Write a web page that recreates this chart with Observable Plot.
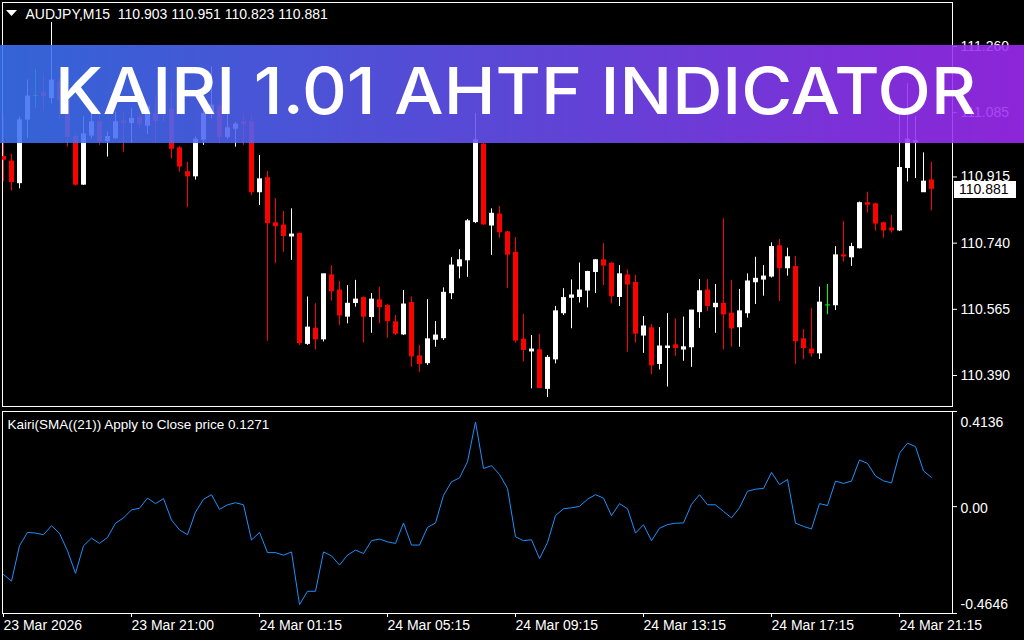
<!DOCTYPE html>
<html>
<head>
<meta charset="utf-8">
<script src="https://cdn.jsdelivr.net/npm/d3@7"></script>
<script src="https://cdn.jsdelivr.net/npm/@observablehq/plot@0.6"></script>
<style>
  html, body { margin: 0; padding: 0; background: #000; }
  #chart { width: 1024px; height: 640px; background: #000; overflow: hidden; }
  #chart svg { display: block; }
</style>
</head>
<body>
<div id="chart"></div>
<script>
// ---------- DATA ----------
const symbol = "AUDJPY,M15";
const bannerTitle = "KAIRI 1.01 AHTF INDICATOR";
const kairiTitle = "Kairi(SMA((21)) Apply to Close price";

const opens = [110.965,110.953,110.896,111.064,111.128,111.134,111.121,111.162,111.115,111.018,
110.892,111.022,111.057,111.007,111.015,111.059,111.055,111.069,111.048,111.079,
111.099,111.090,110.988,110.925,110.914,111.011,111.084,111.099,111.018,111.040,
111.057,111.057,110.872,110.909,110.790,110.784,110.755,110.762,110.471,110.511,
110.483,110.652,110.612,110.543,110.579,110.592,110.542,110.586,110.571,110.528,
110.496,110.579,110.438,110.420,110.482,110.486,110.605,110.676,110.692,110.793,
110.998,110.784,110.813,110.766,110.712,110.482,110.451,110.454,110.352,110.430,
110.552,110.593,110.595,110.612,110.661,110.692,110.683,110.595,110.652,110.632,
110.493,110.512,110.418,110.460,110.467,110.456,110.462,110.555,110.612,110.568,
110.577,110.551,110.515,110.552,110.634,110.641,110.649,110.729,110.671,110.674,
110.483,110.456,110.446,110.574,110.573,110.705,110.700,110.724,110.843,110.840,
110.790,110.776,110.771,110.936,111.003,110.872,110.903];
const highs = [111.075,110.972,111.070,111.169,111.196,111.181,111.321,111.173,111.123,111.027,
111.072,111.080,111.078,111.031,111.084,111.081,111.093,111.079,111.101,111.123,
111.123,111.143,110.993,110.951,111.018,111.088,111.203,111.107,111.080,111.057,
111.075,111.075,110.969,110.927,110.855,110.821,110.828,110.763,110.595,110.577,
110.655,110.678,110.636,110.625,110.639,110.595,110.604,110.621,110.575,110.546,
110.612,110.595,110.467,110.588,110.530,110.619,110.699,110.720,110.800,111.080,
111.001,110.828,110.834,110.768,110.752,110.549,110.493,110.496,110.440,110.570,
110.617,110.640,110.685,110.663,110.694,110.736,110.686,110.678,110.667,110.652,
110.543,110.522,110.514,110.551,110.537,110.542,110.559,110.641,110.641,110.628,
110.802,110.639,110.615,110.656,110.700,110.678,110.738,110.747,110.724,110.702,
110.509,110.565,110.621,110.628,110.728,110.795,110.737,110.846,110.872,110.843,
110.793,110.811,111.080,111.159,111.072,110.976,110.951];
const lows = [110.899,110.875,110.881,111.015,111.093,111.086,111.106,111.064,110.991,110.888,
110.890,111.013,110.996,110.965,111.011,110.978,111.002,111.040,111.025,111.002,
111.057,110.960,110.925,110.831,110.904,110.996,111.066,111.000,111.011,110.991,
110.996,110.863,110.837,110.478,110.683,110.713,110.692,110.467,110.467,110.455,
110.476,110.584,110.520,110.524,110.568,110.473,110.499,110.524,110.486,110.493,
110.493,110.409,110.396,110.414,110.462,110.480,110.588,110.643,110.647,110.789,
110.784,110.705,110.750,110.618,110.473,110.423,110.352,110.354,110.329,110.418,
110.546,110.511,110.579,110.566,110.604,110.625,110.577,110.570,110.449,110.473,
110.446,110.390,110.402,110.357,110.438,110.425,110.409,110.512,110.557,110.499,
110.455,110.462,110.462,110.539,110.575,110.597,110.645,110.583,110.650,110.416,
110.429,110.436,110.430,110.548,110.559,110.687,110.676,110.722,110.817,110.769,
110.750,110.764,110.768,110.899,110.908,110.872,110.823];
const closes = [110.958,110.899,111.062,111.125,111.128,111.126,111.167,111.115,111.018,110.892,
111.025,111.057,111.007,111.018,111.057,111.055,111.066,111.053,111.097,111.060,
111.091,110.987,110.940,110.914,111.011,111.079,111.101,111.018,111.041,111.051,
111.052,110.872,110.906,110.790,110.782,110.756,110.760,110.473,110.514,110.483,
110.655,110.610,110.546,110.577,110.588,110.543,110.588,110.568,110.531,110.498,
110.575,110.438,110.418,110.483,110.493,110.606,110.678,110.692,110.795,111.009,
110.787,110.815,110.766,110.707,110.480,110.455,110.456,110.354,110.434,110.557,
110.592,110.599,110.612,110.661,110.692,110.678,110.597,110.655,110.628,110.498,
110.517,110.414,110.464,110.464,110.460,110.462,110.559,110.610,110.571,110.577,
110.549,110.512,110.557,110.636,110.643,110.649,110.727,110.671,110.700,110.478,
110.460,110.446,110.580,110.574,110.705,110.702,110.727,110.843,110.839,110.789,
110.771,110.771,110.936,111.011,111.007,110.900,110.881];
const kairi = [-0.295,-0.324,-0.170,-0.112,-0.115,-0.122,-0.083,-0.116,-0.192,-0.290,
-0.170,-0.137,-0.160,-0.134,-0.072,-0.049,-0.014,-0.007,0.037,0.013,
0.035,-0.058,-0.101,-0.122,-0.024,0.032,0.052,-0.012,0.008,0.017,
0.008,-0.145,-0.112,-0.200,-0.200,-0.211,-0.197,-0.426,-0.368,-0.368,
-0.197,-0.214,-0.254,-0.211,-0.189,-0.204,-0.148,-0.141,-0.153,-0.160,
-0.071,-0.167,-0.167,-0.090,-0.071,0.049,0.108,0.125,0.195,0.368,
0.166,0.178,0.140,0.079,-0.131,-0.148,-0.144,-0.226,-0.156,-0.039,
-0.009,-0.005,0.001,0.032,0.052,0.037,-0.039,0.013,-0.009,-0.115,
-0.079,-0.148,-0.094,-0.078,-0.072,-0.071,0.010,0.052,0.008,0.008,
-0.021,-0.049,-0.005,0.067,0.076,0.079,0.149,0.096,0.118,-0.072,
-0.086,-0.097,0.013,0.005,0.111,0.101,0.111,0.203,0.188,0.133,
0.112,0.103,0.232,0.276,0.261,0.155,0.1271];

const priceTicks = [111.260, 111.085, 110.915, 110.740, 110.565, 110.390];
const kairiTicks = [0.4136, 0, -0.4646];
const kairiTickLabels = ["0.4136", "0.00", "-0.4646"];
const timeTicks = [0, 16, 32, 48, 64, 80, 96, 112];
const timeLabels = ["23 Mar 2026", "23 Mar 21:00", "24 Mar 01:15", "24 Mar 05:15",
  "24 Mar 09:15", "24 Mar 13:15", "24 Mar 17:15", "24 Mar 21:15"];

// ---------- BUILD ----------
const n = closes.length;
const last = n - 1;
const f3 = d3.format(".3f");
const candles = d3.range(n).map(i => ({i, o: opens[i], h: highs[i], l: lows[i], c: closes[i]}));
const BULL = "#ffffff", BEAR = "#ff0000", DOJI = "#00ff00";
const col = d => d.c > d.o ? BULL : d.c < d.o ? BEAR : DOJI;
const kData = kairi.map((v, i) => ({i, v}));

const FONT = "'Liberation Sans', Arial, sans-serif";
const xScale = {type: "linear", domain: [-0.125, 118.625], axis: null};

const header = `${symbol}\u00a0 ${f3(opens[last])} ${f3(highs[last])} ${f3(lows[last])} ${f3(closes[last])}`;

const triangle = (index, scales, values, dims) => {
  const g = d3.create("svg:g");
  g.append("path").attr("d", "M6,10L17,10L11.5,16Z").attr("fill", "white");
  return g.node();
};

const priceBox = (index, scales, values, dims) => {
  const y = Math.round(scales.y(closes[last]));
  const x0 = dims.width - dims.marginRight + 2;
  const g = d3.create("svg:g");
  g.append("rect").attr("x", x0).attr("y", y - 7).attr("width", 62).attr("height", 17).attr("fill", "white");
  g.append("text").attr("x", x0 + 5).attr("y", y + 1.5).attr("dy", "0.32em")
    .attr("text-anchor", "start")
    .attr("fill", "black").attr("font-size", "14px").attr("font-family", FONT)
    .text(f3(closes[last]));
  return g.node();
};

const banner = (index, scales, values, dims) => {
  const g = d3.create("svg:g");
  const grad = g.append("defs").append("linearGradient").attr("id", "bannerGrad")
    .attr("x1", "0").attr("x2", "1").attr("y1", "0").attr("y2", "0");
  grad.append("stop").attr("offset", "0").attr("stop-color", "rgb(58,114,243)");
  grad.append("stop").attr("offset", "0.5").attr("stop-color", "rgb(104,80,243)");
  grad.append("stop").attr("offset", "1").attr("stop-color", "rgb(160,42,245)");
  g.append("rect").attr("x", 0).attr("y", 45).attr("width", dims.width).attr("height", 98)
    .attr("fill", "url(#bannerGrad)").attr("opacity", 0.88);
  g.append("text").attr("x", 55).attr("y", 114).attr("fill", "white")
    .attr("text-anchor", "start")
    .attr("font-family", "Inter, 'Open Sans', sans-serif").attr("font-weight", 500)
    .attr("font-size", "65px").attr("textLength", 921).attr("lengthAdjust", "spacingAndGlyphs")
    .text(bannerTitle);
  return g.node();
};

const topPlot = Plot.plot({
  width: 1024, height: 408,
  marginLeft: 2, marginRight: 72, marginTop: 2, marginBottom: 2,
  x: xScale,
  y: {type: "linear", domain: [110.3054, 111.3737], axis: null},
  color: {type: "identity"},
  style: {background: "black", color: "white", fontFamily: FONT, fontSize: "14px", overflow: "visible"},
  marks: [
    Plot.frame({stroke: "white"}),
    Plot.ruleX(candles, {x: "i", y1: "l", y2: "h", stroke: col, clip: true}),
    Plot.rect(candles.filter(d => d.o !== d.c), {
      x1: d => d.i - 0.25, x2: d => d.i + 0.375, y1: "o", y2: "c",
      fill: col, insetTop: -0.5, insetBottom: -0.5, clip: true
    }),
    Plot.ruleY(candles.filter(d => d.o === d.c), {
      y: "o", x1: d => d.i - 0.25, x2: d => d.i + 0.375, stroke: DOJI, clip: true
    }),
    Plot.axisY(priceTicks, {anchor: "right", tickSize: 4, tickPadding: 4, tickFormat: f3, label: null, dy: 1}),
    Plot.text([header], {frameAnchor: "top-left", dx: 23, dy: 12, textAnchor: "start", lineAnchor: "middle", fill: "white", fontSize: 14}),
    triangle,
    priceBox,
    banner
  ]
});

const kLabel = (k, dy) => Plot.text([kairiTicks[k]], {
  y: d => d, frameAnchor: "right", dx: 8, dy, textAnchor: "start", lineAnchor: "middle",
  fill: "white", text: () => kairiTickLabels[k]
});

const bottomPlot = Plot.plot({
  width: 1024, height: 232,
  marginLeft: 2, marginRight: 72, marginTop: 3, marginBottom: 27,
  x: xScale,
  y: {type: "linear", domain: [-0.4646, 0.4136], axis: null},
  style: {background: "black", color: "white", fontFamily: FONT, fontSize: "14px", overflow: "visible"},
  marks: [
    Plot.frame({stroke: "white"}),
    Plot.line(kData, {x: "i", y: "v", stroke: "#1e90ff", strokeWidth: 1}),
    Plot.axisX(timeTicks, {
      anchor: "bottom", tickSize: 4, tickPadding: 3, textAnchor: "start", label: null,
      tickFormat: d => timeLabels[timeTicks.indexOf(d)]
    }),
    Plot.axisY(kairiTicks, {anchor: "right", tickSize: 4, tickFormat: () => "", label: null}),
    kLabel(0, 11),
    kLabel(1, 2),
    kLabel(2, -9),
    Plot.text([`${kairiTitle} ${kairi[last].toFixed(4)}`], {
      frameAnchor: "top-left", dx: 5, dy: 13, textAnchor: "start", lineAnchor: "middle", fill: "white", fontSize: 13.5
    })
  ]
});

const root = document.getElementById("chart");
root.appendChild(topPlot);
root.appendChild(bottomPlot);
</script>
</body>
</html>
